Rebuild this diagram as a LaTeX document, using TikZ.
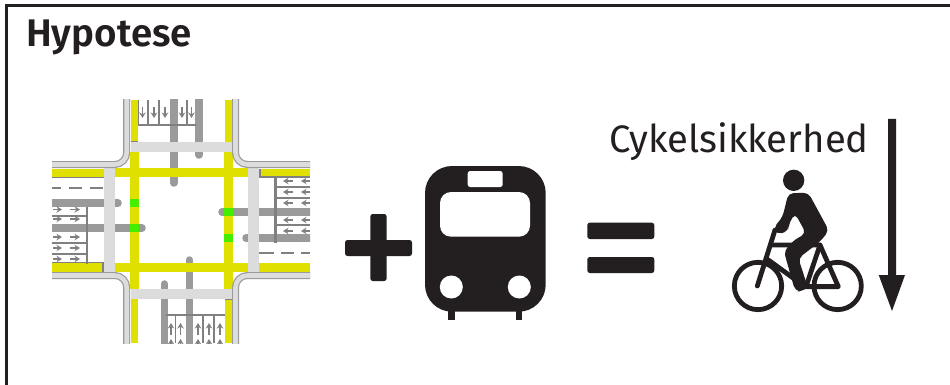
\documentclass[tikz,border=0pt]{standalone}
\usepackage{fontspec}
\setmainfont{Fira Sans}
\newfontfamily\titlefont{Fira Sans SemiBold}
\usetikzlibrary{arrows.meta}
\definecolor{ink}{HTML}{231F20}
\definecolor{lane}{HTML}{E0E000}
\definecolor{signal}{HTML}{44EE00}
\definecolor{track}{HTML}{9A9A9A}
\definecolor{walk}{HTML}{DCDCDC}
\definecolor{mark}{HTML}{808080}
\tikzset{
  yellowbar/.style={fill=lane,draw=none},
  greenbar/.style={fill=signal,draw=none},
  walkbar/.style={fill=walk,draw=none},
  trackline/.style={draw=track,line width=7.5pt,line cap=round},
  kerbout/.style={draw=track,line width=7pt,rounded corners=12pt},
  kerbin/.style={draw=walk,line width=4.6pt,rounded corners=12pt},
  thinmark/.style={draw=mark,line width=1.7pt},
  stopedge/.style={draw=mark,line width=1.2pt},
  widemark/.style={draw=mark,line width=2.8pt},
  roadarrow/.style={draw=mark,line width=1.3pt,-{Stealth[length=5.5pt,width=6.5pt]}},
  solid black/.style={fill=ink,draw=none},
  cut/.style={fill=white,draw=none},
  bike/.style={draw=ink,line width=4.8pt,line join=round,line cap=round},
}
\begin{document}
\begin{tikzpicture}[x=1pt,y=-1pt]
\useasboundingbox (0,0) rectangle (950,385);
\fill[white] (0,0) rectangle (950,385);
% frame
\draw[ink,line width=2.5pt] (6.5,385) -- (6.5,5.5) -- (950,5.5);
\node[anchor=base west,inner sep=0pt,text=ink,font=\fontsize{38.5}{42}\titlefont] (title) at (26,47) {Hypotese};

\begin{scope}
\clip (52,100) rectangle (310,343);
% tram tracks
\draw[trackline] (173.8,90) -- (173.8,183);
\draw[trackline] (199,90) -- (199,155);
\draw[trackline] (164.5,353) -- (164.5,284);
\draw[trackline] (189.5,353) -- (189.5,260);
\draw[trackline] (42,203) -- (118,203);
\draw[trackline] (42,228) -- (142,228);
\draw[trackline] (320,212) -- (222,212);
\draw[trackline] (320,238) -- (246,238);

% yellow lanes
\fill[yellowbar] (130.5,100) rectangle (138,142);
\fill[yellowbar] (224.5,100) rectangle (232.5,142);
\fill[yellowbar] (130,152) rectangle (139,289);
\fill[yellowbar] (224,152) rectangle (233,289);
\fill[yellowbar] (131,299) rectangle (138,343);
\fill[yellowbar] (225,299) rectangle (232,343);
\fill[yellowbar] (52,168.5) rectangle (104,177);
\fill[yellowbar] (104,168) rectangle (259,177);
\fill[yellowbar] (259,168.5) rectangle (310,177);
\fill[yellowbar] (52,263) rectangle (104,271.5);
\fill[yellowbar] (104,263) rectangle (259,272);
\fill[yellowbar] (259,263) rectangle (310,271.5);
\draw[stopedge] (52,177.3) -- (104,177.3);
\draw[stopedge] (52,262.7) -- (103,262.7) -- (103,272);
\draw[stopedge] (260,169) -- (260,177) -- (310,177);
\draw[stopedge] (130.5,142) -- (138,142);
\draw[stopedge] (225,299) -- (232,299);

% crosswalks
\fill[walkbar] (131,142) rectangle (233,152);
\fill[walkbar] (131,289) rectangle (233,299);
\fill[walkbar] (104,168) rectangle (115,273);
\fill[walkbar] (248,168) rectangle (259,273);

% green signal fields
\fill[greenbar] (129.5,199) rectangle (139,206.5);
\fill[greenbar] (129.5,224) rectangle (139,232);
\fill[greenbar] (224,208) rectangle (233,216);
\fill[greenbar] (224,234) rectangle (233,242);

% kerbs
\foreach \p in {kerbout,kerbin}{
  \draw[\p] (126.7,90) -- (126.7,164.5) -- (42,164.5);
  \draw[\p] (235.5,90) -- (235.5,164.5) -- (320,164.5);
  \draw[\p] (126.7,353) -- (126.7,275.5) -- (42,275.5);
  \draw[\p] (235.5,353) -- (235.5,275.5) -- (320,275.5);
}

% centre dashes
\draw[draw=mark,line width=1.8pt,dash pattern=on 9pt off 8pt on 13pt off 8pt on 13pt off 3pt] (52,188) -- (103,188);
\draw[draw=mark,line width=1.8pt,dash pattern=on 15pt off 7pt on 13pt off 7pt on 10pt off 0pt] (259,253) -- (310,253);

% west lane box
\draw[widemark] (87,207) -- (87,264);
\draw[thinmark] (52,216) -- (87,216);
\draw[thinmark] (52,243) -- (87,243);
\draw[thinmark] (52,254) -- (87,254);
\foreach \y in {209.5,219,237,248,259}{
  \draw[roadarrow] (53,\y) -- (62,\y);
  \draw[roadarrow] (70,\y) -- (80,\y);
}
% east lane box
\draw[widemark] (275.5,177) -- (275.5,243);
\draw[thinmark] (275.5,187) -- (310,187);
\draw[thinmark] (275.5,198) -- (310,198);
\draw[thinmark] (275.5,225) -- (310,225);
\foreach \y in {181,192,203,220,231}{
  \draw[roadarrow] (293,\y) -- (283,\y);
  \draw[roadarrow] (310,\y) -- (301,\y);
}
% north lane box
\draw[widemark] (138,125) -- (196,125);
\draw[thinmark] (138.5,100) -- (138.5,125);
\draw[thinmark] (148,100) -- (148,125);
\draw[thinmark] (159,100) -- (159,125);
\draw[thinmark] (187,100) -- (187,125);
\foreach \x in {142.5,154,165,182,191.5}{
  \draw[roadarrow] (\x,107) -- (\x,118);
}
% south lane box
\draw[widemark] (166,315) -- (225,315);
\draw[thinmark] (175.5,315) -- (175.5,343);
\draw[thinmark] (203,315) -- (203,343);
\draw[thinmark] (214,315) -- (214,343);
\foreach \x in {171,180.5,198,209,220}{
  \draw[roadarrow] (\x,335) -- (\x,323);
  \draw[roadarrow] (\x,345) -- (\x,339);
}
\end{scope}

% plus
\fill[solid black,rounded corners=2.5pt] (345,240) rectangle (412,256);
\fill[solid black,rounded corners=2.5pt] (370.3,214) rectangle (386.7,281);
% tram front
\fill[solid black] (448,305) rectangle (455,320);
\fill[solid black] (516,305) rectangle (522,320);
\fill[solid black,rounded corners=27pt] (425,166) rectangle (545.7,311.7);
\fill[cut,rounded corners=2.5pt] (467.7,171) rectangle (502.7,187);
\fill[cut,rounded corners=11pt] (440,192) rectangle (530,236.7);
\fill[cut] (451.3,287) circle[radius=11.5pt];
\fill[cut] (519.3,287) circle[radius=11.5pt];
% equals
\fill[solid black,rounded corners=2.5pt] (587.3,222.7) rectangle (654.3,239);
\fill[solid black,rounded corners=2.5pt] (587.3,257) rectangle (654.3,273);

% label and arrow
\node[anchor=base east,inner sep=0pt,text=ink,font=\fontsize{38.3}{44}\selectfont] (safety) at (869,152) {Cykelsikkerhed};
\fill[solid black] (888,119) -- (896,119) -- (896,275) -- (905,275) -- (892,311) -- (878.7,275) -- (888,275) -- cycle;

% cyclist
\begin{scope}[shift={(720,110)},x=0.3333pt,y=-0.3333pt]
  \draw[bike] (114,528) circle[radius=71];
  \draw[bike] (353,528) circle[radius=71];
  \draw[bike] (112,528) -- (165,360);
  \draw[bike] (155,405) -- (300,405) -- (355,530) -- (255,530) -- (145,450);
  \draw[bike] (300,405) -- (258,530);
  \fill[solid black] (221,211) circle[radius=32];
  \fill[solid black,rounded corners=5pt] (205,250) -- (265,248) -- (327,362) -- (300,395) -- (235,445)
     -- (263,530) -- (245,546) -- (225,542) -- (192,425) -- (220,392) -- (258,370) -- (225,310)
     -- (205,345) -- (207,362) -- (172,374) -- (160,355) -- (188,320) -- cycle;
\end{scope}
\end{tikzpicture}
\end{document}
